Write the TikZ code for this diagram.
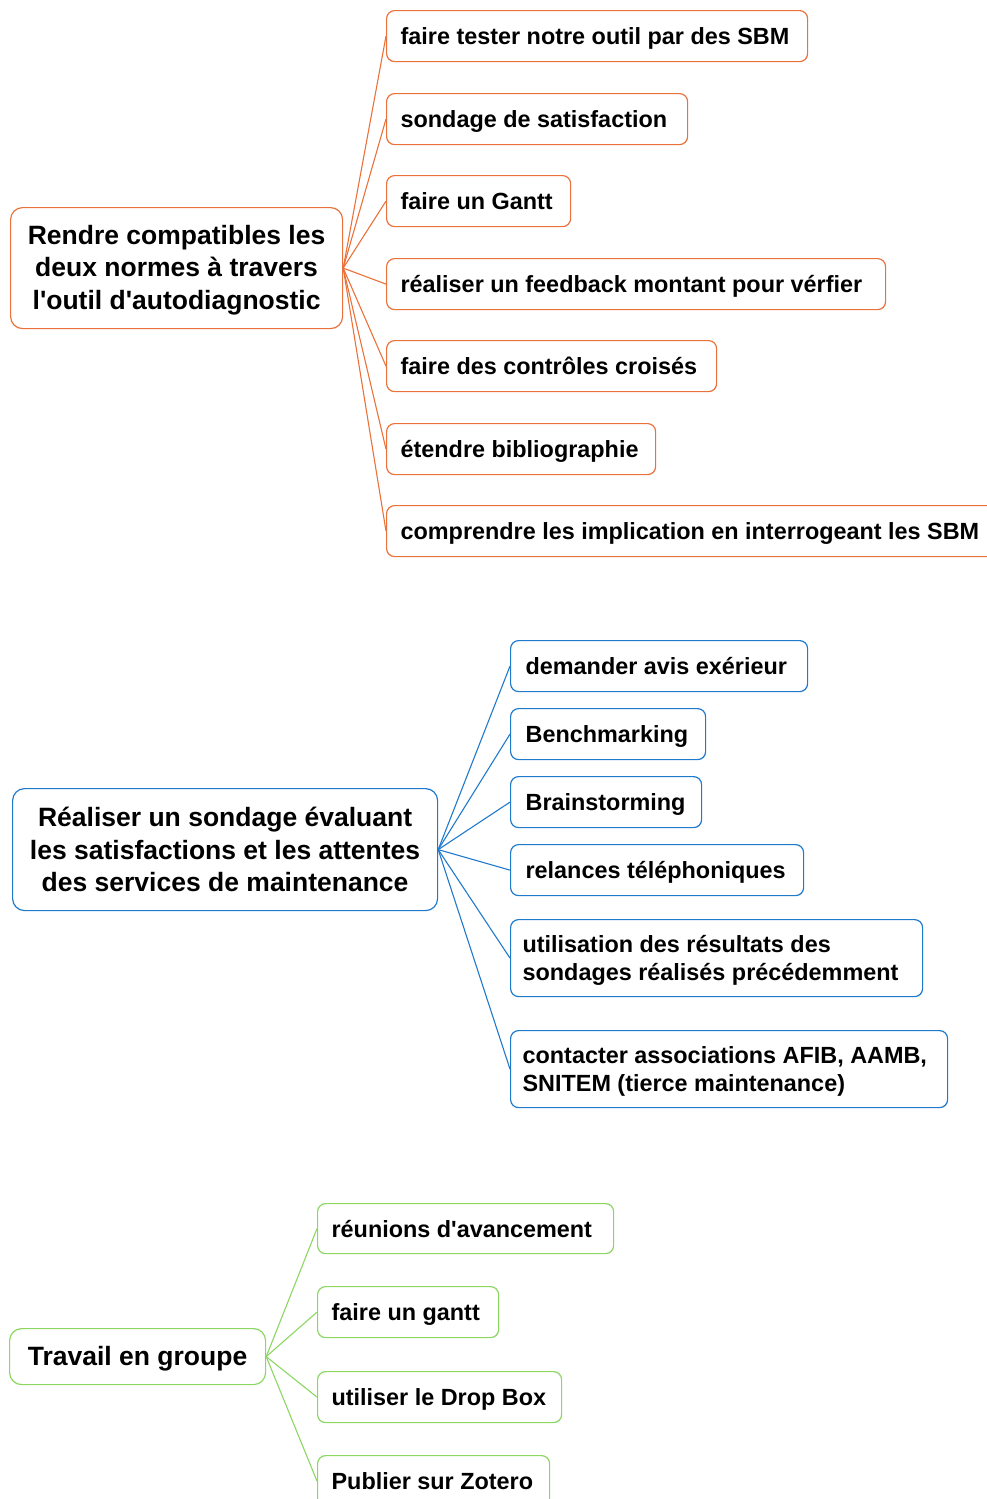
\documentclass[tikz,border=0pt]{standalone}
\usepackage{fontspec}
\setmainfont{Liberation Sans}[Ligatures=TeXOff]
\definecolor{mapOrange}{RGB}{234,114,58}
\definecolor{mapBlue}{RGB}{32,122,204}
\definecolor{mapGreen}{RGB}{140,214,98}
% a line of fixed width, text set flush left
\newcommand{\fixline}[2]{\makebox[#1][l]{#2}}
\tikzset{
  leaf/.style={draw, rounded corners=8pt, line width=1.2pt, anchor=north west,
    inner xsep=14pt, inner ysep=0pt, align=left,
    text height=22pt, text depth=5pt,
    font=\bfseries\fontsize{23.4}{28}\selectfont},
  hub/.style={draw, rounded corners=12pt, line width=1.2pt, anchor=north west,
    inner sep=0pt, align=center,
    font=\bfseries\fontsize{26.5}{32.5}\selectfont},
  link/.style={line width=1.1pt},
  oleaf/.style={leaf, draw=mapOrange},
  bleaf/.style={leaf, draw=mapBlue, inner xsep=15pt},
  bleafwide/.style={leaf, draw=mapBlue, inner xsep=12pt, text height=49pt, text depth=5pt},
  gleaf/.style={leaf, draw=mapGreen},
}
\begin{document}
\begin{tikzpicture}[x=1pt,y=-1pt]
\useasboundingbox (0,0) rectangle (986,1499);

% ---- first branch
\node[hub, draw=mapOrange, minimum width=332pt, minimum height=121pt, text depth=1.5pt] (rA) at (10,207)
  {Rendre compatibles les\\deux normes à travers\\l'outil d'autodiagnostic};
\node[oleaf, minimum height=51pt] (a1) at (386,10)  {\fixline{393pt}{faire tester notre outil par des SBM}};
\node[oleaf, minimum height=51pt] (a2) at (386,93)  {\fixline{273pt}{sondage de satisfaction}};
\node[oleaf, minimum height=51pt] (a3) at (386,175) {\fixline{156pt}{faire un Gantt}};
\node[oleaf, minimum height=51pt] (a4) at (386,258) {\fixline{471pt}{réaliser un feedback montant pour vérfier}};
\node[oleaf, minimum height=51pt] (a5) at (386,340) {\fixline{302pt}{faire des contrôles croisés}};
\node[oleaf, minimum height=51pt] (a6) at (386,423) {\fixline{241pt}{étendre bibliographie}};
\node[oleaf, minimum height=51pt] (a7) at (386,505) {\fixline{600pt}{comprendre les implication en interrogeant les SBM}};
\foreach \n in {a1,a2,a3,a4,a5,a6,a7}
  \draw[link, mapOrange] (rA.east) -- (\n.west);

% ---- second branch
\node[hub, draw=mapBlue, minimum width=425pt, minimum height=122pt] (rB) at (12,788)
  {Réaliser un sondage évaluant\\les satisfactions et les attentes\\des services de maintenance};
\node[bleaf, minimum height=51pt] (b1) at (510,640) {\fixline{267pt}{demander avis exérieur}};
\node[bleaf, minimum height=51pt] (b2) at (510,708) {\fixline{165pt}{Benchmarking}};
\node[bleaf, minimum height=51pt] (b3) at (510,776) {\fixline{161pt}{Brainstorming}};
\node[bleaf, minimum height=51pt] (b4) at (510,844) {\fixline{263pt}{relances téléphoniques}};
\node[bleafwide, minimum height=77pt] (b5) at (510,919)
  {\fixline{388pt}{utilisation des résultats des}\\\fixline{388pt}{sondages réalisés précédemment}};
\node[bleafwide, minimum height=77pt] (b6) at (510,1030)
  {\fixline{413pt}{contacter associations AFIB, AAMB,}\\\fixline{413pt}{SNITEM (tierce maintenance)}};
\foreach \n in {b1,b2,b3,b4,b5,b6}
  \draw[link, mapBlue] (rB.east) -- (\n.west);

% ---- third branch
\node[hub, draw=mapGreen, minimum width=256pt, minimum height=56pt, text depth=1.5pt] (rC) at (9,1328)
  {Travail en groupe};
\node[gleaf, minimum height=50pt] (c1) at (317,1203) {\fixline{268pt}{réunions d'avancement}};
\node[gleaf, minimum height=51pt] (c2) at (317,1286) {\fixline{153pt}{faire un gantt}};
\node[gleaf, minimum height=51pt] (c3) at (317,1371) {\fixline{216pt}{utiliser le Drop Box}};
\node[gleaf, minimum height=51pt] (c4) at (317,1455) {\fixline{204pt}{Publier sur Zotero}};
\foreach \n in {c1,c2,c3,c4}
  \draw[link, mapGreen] (rC.east) -- (\n.west);
\end{tikzpicture}
\end{document}
